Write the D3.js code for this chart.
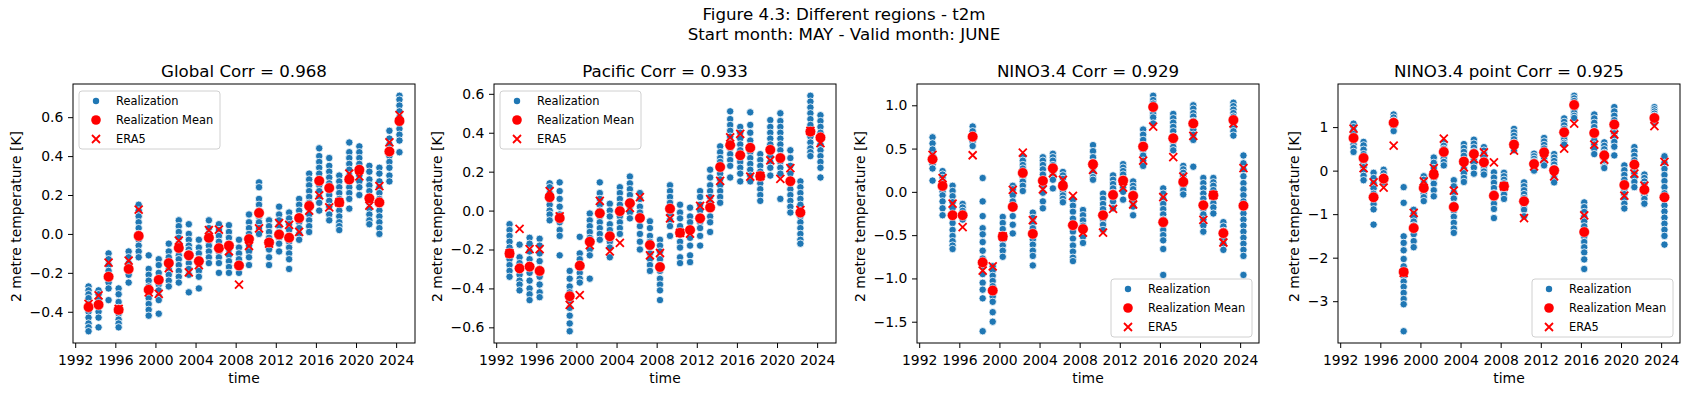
<!DOCTYPE html>
<html>
<head>
<meta charset="utf-8">
<script src="https://cdn.jsdelivr.net/npm/d3@7"></script>
<style>
  body { margin: 0; background: #fff; }
  svg { display: block; font-family: "DejaVu Sans", sans-serif; }
</style>
</head>
<body>
<svg id="fig" width="1688" height="396"></svg>
<script>
// start years (forecast start 1 May, valid June)
const years = [1993, 1994, 1995, 1996, 1997, 1998, 1999, 2000, 2001, 2002, 2003, 2004, 2005, 2006, 2007, 2008,
  2009, 2010, 2011, 2012, 2013, 2014, 2015, 2016, 2017, 2018, 2019, 2020, 2021, 2022, 2023, 2024]

const suptitle = ["Figure 4.3: Different regions - t2m", "Start month: MAY - Valid month: JUNE"]
const titles = ["Global Corr = 0.968", "Pacific Corr = 0.933", "NINO3.4 Corr = 0.929", "NINO3.4 point Corr = 0.925"]
const legendLabels = ["Realization", "Realization Mean", "ERA5"]

// ---- Global
const globalReal = [
  [-0.27,-0.29,-0.31,-0.33,-0.36,-0.38,-0.40,-0.43,-0.46,-0.48,-0.50],
  [-0.29,-0.31,-0.34,-0.37,-0.40,-0.43,-0.48],
  [-0.10,-0.13,-0.16,-0.19,-0.22,-0.25,-0.28,-0.34],
  [-0.28,-0.31,-0.35,-0.38,-0.41,-0.44,-0.46,-0.48],
  [-0.09,-0.12,-0.15,-0.18,-0.21,-0.25],
  [0.15,0.12,0.09,0.06,0.03,0.0,-0.03,-0.06,-0.09,-0.12],
  [-0.11,-0.18,-0.21,-0.24,-0.27,-0.30,-0.33,-0.36,-0.39,-0.42],
  [-0.13,-0.16,-0.20,-0.23,-0.26,-0.29,-0.32,-0.34,-0.41],
  [-0.05,-0.09,-0.12,-0.15,-0.18,-0.21,-0.24,-0.27],
  [0.07,0.04,0.01,-0.02,-0.05,-0.08,-0.11,-0.13,-0.16,-0.19,-0.22,-0.25],
  [0.05,0.0,-0.03,-0.06,-0.08,-0.10,-0.12,-0.15,-0.18,-0.21,-0.30],
  [-0.03,-0.07,-0.10,-0.13,-0.16,-0.19,-0.22,-0.28],
  [0.07,0.03,0.0,-0.02,-0.04,-0.06,-0.09,-0.12,-0.15],
  [0.05,0.02,-0.01,-0.04,-0.07,-0.09,-0.12,-0.15,-0.20],
  [0.045,0.01,-0.02,-0.05,-0.08,-0.11,-0.14,-0.17,-0.20],
  [-0.03,-0.07,-0.10,-0.13,-0.16,-0.20],
  [0.10,0.06,0.03,0.0,-0.03,-0.06,-0.09,-0.12,-0.16],
  [0.265,0.24,0.18,0.15,0.12,0.09,0.06,0.03,0.0],
  [0.07,0.04,0.01,-0.02,-0.05,-0.08,-0.12,-0.16],
  [0.14,0.10,0.07,0.04,0.01,-0.02,-0.05,-0.09],
  [0.11,0.08,0.05,0.02,-0.01,-0.04,-0.07,-0.10,-0.13,-0.18],
  [0.18,0.15,0.12,0.09,0.06,0.03,0.0,-0.03],
  [0.31,0.28,0.25,0.22,0.19,0.16,0.13,0.10,0.07,0.04,0.01],
  [0.44,0.40,0.37,0.34,0.31,0.28,0.25,0.22,0.19,0.16,0.12],
  [0.39,0.35,0.32,0.29,0.26,0.23,0.20,0.17,0.14,0.10,0.07],
  [0.30,0.27,0.24,0.21,0.18,0.15,0.12,0.09,0.06,0.04,0.02],
  [0.47,0.42,0.39,0.36,0.33,0.30,0.27,0.24,0.21,0.18,0.13],
  [0.45,0.42,0.39,0.36,0.33,0.30,0.27,0.24,0.20],
  [0.35,0.32,0.28,0.25,0.22,0.19,0.16,0.13,0.10,0.07,0.05],
  [0.34,0.31,0.27,0.24,0.21,0.18,0.15,0.12,0.09,0.06,0.03,0.0],
  [0.53,0.49,0.46,0.43,0.40,0.37,0.34,0.30,0.27],
  [0.71,0.69,0.66,0.63,0.60,0.57,0.54,0.51,0.48,0.42]
]
const globalMean = [-0.376,-0.364,-0.22,-0.39,-0.18,-0.01,-0.287,-0.236,-0.15,-0.072,-0.11,-0.14,-0.02,-0.073,-0.06,-0.162,
  -0.026,0.108,-0.044,-0.003,-0.019,0.082,0.144,0.273,0.236,0.162,0.28,0.33,0.183,0.162,0.424,0.58]
const globalEra = [-0.36,-0.316,-0.147,-0.385,-0.137,0.125,-0.30,-0.308,-0.176,-0.034,-0.197,-0.16,0.02,0.022,-0.089,-0.26,
  -0.062,0.029,-0.05,0.055,0.046,0.01,0.12,0.198,0.137,0.162,0.31,0.296,0.145,0.246,0.47,0.61]

// ---- Pacific
const pacificReal = [
  [-0.07,-0.10,-0.13,-0.16,-0.19,-0.22,-0.25,-0.28,-0.31,-0.34],
  [-0.175,-0.24,-0.27,-0.30,-0.33,-0.36,-0.38,-0.41],
  [-0.14,-0.17,-0.21,-0.25,-0.28,-0.32,-0.36,-0.40,-0.43,-0.46],
  [-0.145,-0.18,-0.22,-0.26,-0.30,-0.34,-0.38,-0.42,-0.445],
  [0.14,0.12,0.09,0.06,0.03,0.0,-0.02,-0.05],
  [0.145,0.10,0.06,0.02,-0.02,-0.06,-0.10,-0.13,-0.23],
  [-0.31,-0.35,-0.39,-0.42,-0.46,-0.50,-0.54,-0.58,-0.62],
  [-0.135,-0.22,-0.25,-0.28,-0.32,-0.35,-0.37],
  [-0.015,-0.05,-0.08,-0.11,-0.14,-0.17,-0.20,-0.23,-0.35],
  [0.145,0.09,0.06,0.03,0.0,-0.03,-0.06,-0.09,-0.12,-0.15],
  [0.035,0.0,-0.03,-0.07,-0.10,-0.13,-0.16,-0.19,-0.24],
  [0.12,0.09,0.06,0.03,0.0,-0.03,-0.06,-0.09,-0.12],
  [0.175,0.14,0.11,0.08,0.05,0.02,-0.01,-0.04],
  [0.09,0.06,0.02,-0.01,-0.04,-0.08,-0.12,-0.16,-0.20],
  [-0.055,-0.09,-0.13,-0.16,-0.19,-0.22,-0.25,-0.28,-0.31],
  [-0.15,-0.18,-0.21,-0.25,-0.28,-0.31,-0.35,-0.38,-0.41,-0.46],
  [0.13,0.10,0.07,0.04,0.01,-0.02,-0.05,-0.08,-0.13],
  [0.03,-0.01,-0.04,-0.08,-0.12,-0.16,-0.19,-0.24,-0.27],
  [0.015,-0.03,-0.06,-0.10,-0.14,-0.18,-0.23,-0.265],
  [0.10,0.07,0.03,0.0,-0.03,-0.06,-0.09,-0.13,-0.18],
  [0.21,0.17,0.13,0.10,0.07,0.04,0.01,-0.03,-0.06,-0.11],
  [0.33,0.30,0.27,0.25,0.22,0.19,0.16,0.13,0.10,0.07,0.04],
  [0.51,0.47,0.44,0.41,0.38,0.35,0.32,0.29,0.26,0.23,0.17],
  [0.43,0.40,0.37,0.34,0.31,0.28,0.25,0.22,0.19,0.15],
  [0.505,0.44,0.40,0.36,0.33,0.30,0.27,0.24,0.21,0.18,0.15],
  [0.29,0.26,0.23,0.20,0.17,0.14,0.11,0.08,0.05],
  [0.465,0.43,0.40,0.37,0.34,0.31,0.28,0.25,0.22,0.18],
  [0.50,0.46,0.43,0.40,0.37,0.34,0.31,0.28,0.25,0.22,0.19,0.06],
  [0.31,0.27,0.23,0.19,0.15,0.11,0.08,0.05,0.02,-0.01],
  [0.15,0.12,0.09,0.06,0.03,0.0,-0.03,-0.06,-0.09,-0.12,-0.15,-0.17],
  [0.59,0.56,0.53,0.50,0.47,0.44,0.41,0.38,0.35,0.32,0.30,0.28],
  [0.49,0.46,0.43,0.40,0.37,0.34,0.31,0.28,0.25,0.22,0.17]
]
const pacificMean = [-0.22,-0.297,-0.288,-0.31,0.069,-0.038,-0.44,-0.283,-0.16,-0.014,-0.132,-0.003,0.038,-0.038,-0.177,-0.29,
  0.01,-0.114,-0.10,-0.04,0.016,0.224,0.336,0.284,0.323,0.177,0.312,0.27,0.151,-0.01,0.406,0.376]
const pacificEra = [-0.22,-0.094,-0.198,-0.198,0.10,-0.03,-0.484,-0.435,-0.177,0.05,-0.21,-0.166,0.014,0.069,-0.23,-0.218,
  -0.04,-0.114,-0.118,0.024,0.059,0.153,0.376,0.394,0.175,0.177,0.258,0.163,0.218,0.003,0.41,0.347]

// ---- NINO3.4
const ninoReal = [
  [0.63,0.56,0.49,0.42,0.36,0.32,0.27,0.13],
  [0.24,0.20,0.16,0.12,0.08,0.04,0.0,-0.04,-0.11,-0.19,-0.27],
  [0.07,0.01,-0.05,-0.12,-0.19,-0.27,-0.36,-0.44,-0.51,-0.57,-0.62,-0.66],
  [-0.14,-0.18,-0.22,-0.26,-0.29,-0.32],
  [0.755,0.70,0.64,0.58,0.53],
  [0.16,-0.11,-0.28,-0.42,-0.49,-0.58,-0.68,-0.77,-0.86,-0.95,-1.05,-1.13,-1.23,-1.61],
  [-0.86,-0.91,-0.97,-1.03,-1.09,-1.15,-1.21,-1.27,-1.39,-1.50],
  [-0.29,-0.36,-0.43,-0.50,-0.56,-0.62,-0.68,-0.75],
  [0.07,0.03,-0.04,-0.11,-0.18,-0.28,-0.38,-0.48],
  [0.41,0.36,0.31,0.27,0.22,0.17,0.12,0.07,0.01],
  [-0.24,-0.30,-0.36,-0.42,-0.48,-0.55,-0.61,-0.68,-0.74,-0.85],
  [0.40,0.36,0.31,0.26,0.20,0.14,0.07,-0.01,-0.11,-0.19],
  [0.44,0.40,0.36,0.31,0.27,0.22,0.18,0.14,0.04],
  [0.23,0.19,0.15,0.10,0.06,0.01,-0.04,-0.08,-0.12],
  [-0.09,-0.16,-0.23,-0.31,-0.39,-0.46,-0.54,-0.62,-0.69,-0.76,-0.80],
  [-0.21,-0.27,-0.33,-0.39,-0.45,-0.52,-0.59],
  [0.54,0.47,0.40,0.34,0.28,0.22,0.17,0.14],
  [-0.02,-0.08,-0.14,-0.20,-0.26,-0.32,-0.38,-0.44],
  [0.19,0.14,0.09,0.04,-0.01,-0.06,-0.11,-0.19],
  [0.32,0.28,0.24,0.20,0.15,0.10,0.05,0.0,-0.09],
  [0.12,0.07,0.03,-0.02,-0.07,-0.12,-0.17,-0.27],
  [0.72,0.66,0.60,0.54,0.48,0.42,0.36,0.30],
  [1.11,1.06,1.02,0.98,0.94,0.90,0.86,0.79],
  [0.04,-0.02,-0.08,-0.14,-0.20,-0.26,-0.32,-0.38,-0.44,-0.50,-0.56,-0.66,-0.96],
  [0.90,0.85,0.80,0.75,0.70,0.64,0.58,0.52,0.48],
  [0.30,0.26,0.22,0.18,0.14,0.10,0.06,0.02,-0.03],
  [1.00,0.96,0.91,0.87,0.82,0.77,0.72,0.66,0.60,0.29],
  [0.16,0.10,0.04,-0.02,-0.08,-0.14,-0.20,-0.26,-0.32,-0.39,-0.46],
  [0.16,0.11,0.07,0.02,-0.03,-0.08,-0.13,-0.18,-0.25],
  [-0.35,-0.40,-0.45,-0.50,-0.55,-0.60,-0.67],
  [1.03,0.99,0.95,0.91,0.87,0.83,0.79,0.74,0.70,0.65],
  [0.42,0.33,0.26,0.18,0.10,0.03,-0.04,-0.11,-0.18,-0.25,-0.32,-0.39,-0.46,-0.53,-0.60,-0.67,-0.74,-0.96]
]
const ninoMean = [0.377,0.069,-0.27,-0.27,0.638,-0.815,-1.14,-0.515,-0.173,0.219,-0.485,0.127,0.273,0.069,-0.385,-0.43,
  0.32,-0.27,-0.035,0.13,-0.046,0.523,0.98,-0.35,0.62,0.115,0.79,-0.154,-0.038,-0.477,0.83,-0.16]
const ninoEra = [0.427,0.158,-0.135,-0.408,0.423,-0.91,-0.86,-0.515,0.023,0.454,-0.327,0.03,0.215,0.138,-0.046,-0.47,
  0.254,-0.47,-0.196,0.05,-0.146,0.362,0.754,-0.06,0.40,0.177,0.646,-0.323,-0.038,-0.585,0.79,0.273]

// ---- NINO3.4 point
const pointReal = [
  [1.08,1.00,0.92,0.84,0.76,0.68,0.60,0.52,0.43],
  [0.66,0.58,0.48,0.38,0.28,0.18,0.08,-0.02,-0.12,-0.22],
  [-0.05,-0.17,-0.29,-0.41,-0.53,-0.65,-0.77,-0.89,-1.24],
  [0.02,-0.06,-0.14,-0.22,-0.27],
  [1.29,1.22,1.15,1.08,1.00,0.91],
  [-0.38,-0.74,-1.51,-1.66,-1.83,-2.03,-2.20,-2.43,-2.55,-2.67,-2.81,-2.95,-3.07,-3.69],
  [-0.90,-0.99,-1.08,-1.17,-1.26,-1.35,-1.46,-1.62,-1.76],
  [-0.13,-0.21,-0.29,-0.37,-0.45,-0.53,-0.61,-0.70],
  [0.30,0.18,0.06,-0.06,-0.18,-0.30,-0.45,-0.59],
  [0.64,0.57,0.50,0.43,0.36,0.28,0.20,0.12],
  [-0.22,-0.36,-0.50,-0.64,-0.78,-0.92,-1.06,-1.20,-1.33,-1.43],
  [0.61,0.52,0.43,0.34,0.24,0.14,0.04,-0.06,-0.17,-0.26],
  [0.71,0.62,0.53,0.44,0.35,0.26,0.17,0.07,-0.07],
  [0.54,0.46,0.38,0.30,0.22,0.14,0.06,-0.02,-0.09],
  [-0.04,-0.16,-0.28,-0.40,-0.52,-0.64,-0.76,-0.88,-1.09],
  [-0.05,-0.13,-0.21,-0.29,-0.37,-0.45,-0.55,-0.65],
  [0.96,0.88,0.80,0.72,0.64,0.56,0.47],
  [-0.27,-0.36,-0.45,-0.54,-0.63,-0.72,-0.81,-0.90,-1.05],
  [0.39,0.33,0.27,0.21,0.15,0.09,0.03,0.0],
  [0.75,0.67,0.59,0.51,0.43,0.35,0.27,0.19,0.12],
  [0.38,0.30,0.22,0.14,0.06,-0.02,-0.10,-0.18,-0.27],
  [1.20,1.12,1.04,0.96,0.88,0.80,0.72,0.64,0.60],
  [1.72,1.66,1.60,1.54,1.47,1.40,1.33,1.26,1.21],
  [-0.73,-0.84,-0.95,-1.06,-1.17,-1.28,-1.40,-1.52,-1.64,-1.76,-1.88,-2.04,-2.26],
  [1.29,1.20,1.10,1.00,0.90,0.80,0.70,0.60,0.50,0.38],
  [0.65,0.57,0.49,0.41,0.33,0.25,0.17,0.09,0.06],
  [1.46,1.36,1.26,1.16,1.06,0.96,0.86,0.76,0.66,0.55,0.35],
  [0.12,0.01,-0.10,-0.21,-0.32,-0.43,-0.54,-0.65,-0.76,-0.87],
  [0.54,0.44,0.34,0.24,0.14,0.04,-0.06,-0.16,-0.26,-0.38],
  [-0.09,-0.17,-0.25,-0.33,-0.41,-0.49,-0.57,-0.65,-0.76],
  [1.46,1.41,1.36,1.31,1.26,1.21,1.16,1.10],
  [0.33,0.18,0.04,-0.10,-0.24,-0.38,-0.52,-0.66,-0.80,-0.94,-1.08,-1.22,-1.36,-1.50,-1.70]
]
const pointMean = [0.75,0.29,-0.613,-0.184,1.10,-2.33,-1.32,-0.40,-0.092,0.43,-0.835,0.21,0.383,0.19,-0.575,-0.36,
  0.60,-0.705,0.153,0.42,0.008,0.88,1.51,-1.41,0.866,0.35,1.06,-0.33,0.138,-0.437,1.21,-0.613]
const pointEra = [0.965,0.06,-0.268,-0.39,0.575,-2.35,-0.97,-0.245,0.06,0.735,-0.46,0.077,0.27,0.42,0.19,-0.36,
  0.46,-1.09,0.10,0.27,-0.13,0.506,1.08,-1.03,0.6,0.25,0.83,-0.575,-0.07,-0.345,1.02,0.2]

const panels = [
  { title: titles[0], real: globalReal, mean: globalMean, era: globalEra, fmt: ".1f", legend: "ul" },
  { title: titles[1], real: pacificReal, mean: pacificMean, era: pacificEra, fmt: ".1f", legend: "ul" },
  { title: titles[2], real: ninoReal, mean: ninoMean, era: ninoEra, fmt: ".1f", legend: "lr" },
  { title: titles[3], real: pointReal, mean: pointMean, era: pointEra, fmt: "d", legend: "lr" }
]

const svg = d3.select('#fig')
const lefts = [73, 494, 917, 1338]
const axTop = 84, width = 342, height = 259
const blue = '#1f77b4', red = '#ff0000'
const xPath = 'M-4,-4L4,4M-4,4L4,-4'

svg.append('rect').attr('width', 1688).attr('height', 396).attr('fill', '#fff')

// suptitle
svg.selectAll('.sup')
  .data(suptitle)
  .enter()
  .append('text')
  .attr('x', 844)
  .attr('y', (d, i) => 20 + i * 19.5)
  .attr('text-anchor', 'middle')
  .style('font-size', '16.67px')
  .text(d => d)

const dates = years.map(y => new Date(y, 4, 1))

panels.forEach((p, k) => drawPanel(p, lefts[k]))

function drawPanel(p, left) {
  const chart = svg.append('g').attr('transform', `translate(${left}, ${axTop})`)

  // matplotlib style 5% margins
  const [t0, t1] = d3.extent(dates)
  const dt = (t1 - t0) * 0.05
  const x = d3.scaleTime()
    .domain([new Date(+t0 - dt), new Date(+t1 + dt)])
    .range([0, width])

  const all = p.real.flat().concat(p.mean, p.era)
  const [lo, hi] = d3.extent(all)
  const m = (hi - lo) * 0.05
  const y = d3.scaleLinear().domain([lo - m, hi + m]).range([height, 0])

  // axes
  chart.append('g')
    .attr('transform', `translate(0, ${height})`)
    .call(d3.axisBottom(x)
      .ticks(d3.timeYear.every(4))
      .tickFormat(d3.timeFormat('%Y'))
      .tickSize(5)
      .tickPadding(7))
  const yAxis = chart.append('g')
    .call(d3.axisLeft(y)
      .ticks(6)
      .tickFormat(d3.format(p.fmt))
      .tickSize(5)
      .tickPadding(4.7))
  chart.selectAll('.domain').remove()
  chart.selectAll('.tick line').attr('stroke', '#000').attr('stroke-width', 1)
  chart.selectAll('.tick text')
    .attr('fill', '#000')
    .style('font-size', '13.9px')
    .style('font-family', '"DejaVu Sans", sans-serif')

  // realizations
  const pts = []
  p.real.forEach((vals, i) => vals.forEach(v => pts.push({ t: dates[i], v: v })))
  chart.append('g')
    .selectAll('circle')
    .data(pts)
    .enter()
    .append('circle')
    .attr('cx', d => x(d.t))
    .attr('cy', d => y(d.v))
    .attr('r', 3.7)
    .attr('fill', blue)
    .attr('stroke', '#fff')
    .attr('stroke-width', 0.8)

  // realization mean
  chart.append('g')
    .selectAll('circle')
    .data(p.mean)
    .enter()
    .append('circle')
    .attr('cx', (d, i) => x(dates[i]))
    .attr('cy', d => y(d))
    .attr('r', 5.3)
    .attr('fill', red)
    .attr('stroke', '#fff')
    .attr('stroke-width', 0.5)

  // ERA5
  chart.append('g')
    .selectAll('path')
    .data(p.era)
    .enter()
    .append('path')
    .attr('d', xPath)
    .attr('transform', (d, i) => `translate(${x(dates[i])}, ${y(d)})`)
    .attr('fill', 'none')
    .attr('stroke', red)
    .attr('stroke-width', 1.8)

  // frame
  chart.append('rect')
    .attr('width', width)
    .attr('height', height)
    .attr('fill', 'none')
    .attr('stroke', '#000')
    .attr('stroke-width', 1)

  // title + labels
  chart.append('text')
    .attr('x', width / 2)
    .attr('y', -7)
    .attr('text-anchor', 'middle')
    .style('font-size', '16.67px')
    .text(p.title)

  chart.append('text')
    .attr('x', width / 2)
    .attr('y', height + 40)
    .attr('text-anchor', 'middle')
    .style('font-size', '13.9px')
    .text('time')

  const bb = yAxis.node().getBBox()
  chart.append('text')
    .attr('transform', `translate(${bb.x - 9}, ${height / 2 + 3}) rotate(-90)`)
    .attr('text-anchor', 'middle')
    .style('font-size', '13.9px')
    .text('2 metre temperature [K]')

  // legend
  const lw = 141, lh = 58
  const lx = p.legend === 'ul' ? 6 : width - 7 - lw
  const ly = p.legend === 'ul' ? 7 : height - 6 - lh
  const leg = chart.append('g').attr('transform', `translate(${lx}, ${ly})`)
  leg.append('rect')
    .attr('width', lw)
    .attr('height', lh)
    .attr('rx', 3)
    .attr('fill', '#fff')
    .attr('fill-opacity', 0.8)
    .attr('stroke', '#d0d0d0')
    .attr('stroke-width', 1)
  const rows = leg.selectAll('.row')
    .data(legendLabels)
    .enter()
    .append('g')
    .attr('transform', (d, i) => `translate(17, ${10 + i * 19})`)
  rows.filter((d, i) => i === 0).append('circle').attr('r', 3.2).attr('fill', blue)
  rows.filter((d, i) => i === 1).append('circle').attr('r', 4.8).attr('fill', red)
  rows.filter((d, i) => i === 2).append('path').attr('d', xPath)
    .attr('stroke', red).attr('stroke-width', 1.8).attr('fill', 'none')
  rows.append('text')
    .attr('x', 20)
    .attr('dy', '0.36em')
    .style('font-size', '11.4px')
    .text(d => d)
}
</script>
</body>
</html>
